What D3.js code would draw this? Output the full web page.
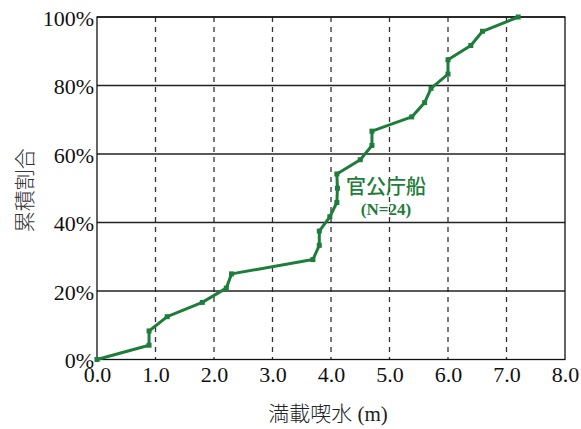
<!DOCTYPE html>
<html><head><meta charset="utf-8">
<script src="https://cdn.jsdelivr.net/npm/d3@7"></script>
<style>body{margin:0;background:#fff}svg{display:block}</style>
</head><body><svg id="c" width="581" height="429"></svg>
<script>
const draftM = [0, 0.89, 0.89, 1.20, 1.80, 2.21, 2.30, 3.69, 3.80, 3.80, 3.98, 4.10, 4.11, 4.10, 4.50, 4.70, 4.70, 5.38, 5.60, 5.71, 6.00, 6.00, 6.39, 6.59, 7.20];
const cumPct = [0, 4.17, 8.33, 12.5, 16.67, 20.83, 25, 29.17, 33.33, 37.5, 41.67, 45.83, 50, 54.17, 58.33, 62.5, 66.67, 70.83, 75, 79.17, 83.33, 87.5, 91.67, 95.83, 100];
const xTicks = [0, 1, 2, 3, 4, 5, 6, 7, 8];
const yTicks = [0, 20, 40, 60, 80, 100];
const seriesName = "官公庁船";
const seriesNote = "(N=24)";
const xTitleJa = "満載喫水";
const xTitleUnit = " (m)";
const yTitle = "累積割合";

const svg = d3.select("#c");
const L = 97, R = 565, T = 17, B = 359.5;
const x = d3.scaleLinear().domain([0, 8]).range([L, R]);
const y = d3.scaleLinear().domain([0, 100]).range([B, T]);
const green = "#1e7d3a";
const serif = "'Liberation Serif', 'Times New Roman', serif";
const cjk = "'Noto Sans CJK JP', sans-serif";

// vertical dashed grid
svg.append("g").selectAll("line").data(xTicks.filter(d => d > 0 && d < 8)).join("line")
  .attr("x1", d => x(d)).attr("x2", d => x(d)).attr("y1", T).attr("y2", B)
  .attr("stroke", "#333").attr("stroke-width", 1.3).attr("stroke-dasharray", "5,5");
// horizontal solid grid
svg.append("g").selectAll("line").data(yTicks.filter(d => d > 0)).join("line")
  .attr("x1", L).attr("x2", R).attr("y1", d => y(d)).attr("y2", d => y(d))
  .attr("stroke", "#222").attr("stroke-width", 1.3);
// frame
svg.append("rect").attr("x", L).attr("y", T).attr("width", R - L).attr("height", B - T)
  .attr("fill", "none").attr("stroke", "#111").attr("stroke-width", 1.3);

// axes labels
const xa = svg.append("g").attr("transform", `translate(0,${B})`)
  .call(d3.axisBottom(x).tickValues(xTicks).tickFormat(d3.format(".1f")).tickSize(0).tickPadding(7));
xa.select(".domain").remove();
xa.selectAll("text").style("font-family", serif).style("font-size", "22px").attr("fill", "#111");
const ya = svg.append("g").attr("transform", `translate(${L},0)`)
  .call(d3.axisLeft(y).tickValues(yTicks).tickFormat(d => d + "%").tickSize(0).tickPadding(3));
ya.select(".domain").remove();
ya.selectAll("text").style("font-family", serif).style("font-size", "22px").attr("fill", "#111")
  .attr("dy", "0.38em");

// titles
const xt = svg.append("text").attr("x", 328).attr("y", 421).attr("text-anchor", "middle")
  .style("font-size", "21px").attr("fill", "#222");
xt.append("tspan").style("font-family", cjk).style("font-weight", 300).text(xTitleJa);
xt.append("tspan").style("font-family", serif).text(xTitleUnit);
svg.append("text").attr("transform", `translate(32,${(T + B) / 2 + 2}) rotate(-90)`).attr("text-anchor", "middle")
  .style("font-family", cjk).style("font-weight", 300).style("font-size", "21px").attr("fill", "#333").text(yTitle);

// line
const pts = draftM.map((d, i) => [d, cumPct[i]]);
svg.append("path").datum(pts)
  .attr("d", d3.line().x(d => x(d[0])).y(d => y(d[1])))
  .attr("fill", "none").attr("stroke", green).attr("stroke-width", 3).attr("stroke-linejoin", "round");
svg.append("g").selectAll("rect").data(pts).join("rect")
  .attr("x", d => x(d[0]) - 2.5).attr("y", d => y(d[1]) - 2.5).attr("width", 5).attr("height", 5).attr("fill", green);

// label
svg.append("text").attr("x", 386).attr("y", 194).attr("text-anchor", "middle")
  .style("font-family", cjk).style("font-weight", 500).style("font-size", "20px").attr("fill", green).text(seriesName);
svg.append("text").attr("x", 386).attr("y", 215).attr("text-anchor", "middle")
  .style("font-family", serif).style("font-weight", "bold").style("font-size", "17px").attr("fill", green).text(seriesNote);
</script></body></html>
